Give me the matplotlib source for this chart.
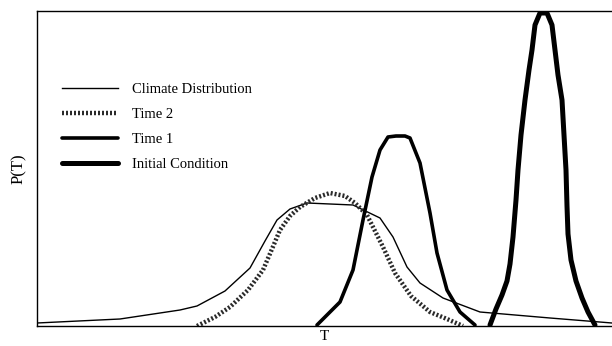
import matplotlib.pyplot as plt

plt.rcParams['font.family'] = ['Liberation Serif', 'DejaVu Serif']

# curves (T and P(T) in arbitrary units)
climate_t = [37, 120, 180, 197, 225, 250, 265, 277, 290, 307, 353, 380, 393, 407,
             420, 443, 480, 550, 612]
climate_p = [3, 7, 16, 20, 35, 58, 85, 106, 117, 123, 121, 108, 89, 59,
             43, 28, 14, 8, 3]

time2_t = [197, 215, 230, 248, 263, 272, 280, 290, 300, 315, 330, 345, 355, 367,
           383, 395, 411, 430, 447, 463]
time2_p = [0, 9, 19, 36, 56, 77, 96, 110, 119, 128, 133, 130, 123, 111,
           79, 53, 30, 14, 7, 0]

time1_t = [317, 328, 340, 353, 363, 372, 380, 388, 396, 405, 410, 420, 430, 437,
           447, 460, 475]
time1_p = [1, 12, 24, 56, 106, 149, 176, 189, 190, 190, 188, 163, 113, 73,
           36, 14, 1]

init_t = [490, 496, 502, 507, 510, 513, 516, 518, 521, 525, 529, 532, 535, 540,
          547, 552, 555, 558, 562, 564, 566, 567, 568, 571, 576, 582, 588, 595]
init_p = [1, 17, 31, 45, 62, 89, 126, 156, 191, 226, 256, 276, 301, 313,
          313, 301, 276, 251, 226, 191, 156, 120, 92, 66, 45, 28, 14, 1]

labels = ['Climate Distribution', 'Time 2', 'Time 1', 'Initial Condition']

fig = plt.figure(figsize=(6.12, 3.46), dpi=100)
ax = fig.add_axes([37 / 612, 20 / 346, 575 / 612, 315 / 346])

ax.plot(climate_t, climate_p, color='black', lw=1.0, label=labels[0])
ax.plot(time2_t, time2_p, color='#2a2a2a', lw=3.2, linestyle=(0, (0.45, 0.45)),
        label=labels[1])
ax.plot(time1_t, time1_p, color='black', lw=2.6, solid_joinstyle='round',
        solid_capstyle='round', label=labels[2])
ax.plot(init_t, init_p, color='black', lw=3.6, solid_joinstyle='round',
        solid_capstyle='round', label=labels[3])

ax.set_xlim(37, 612)
ax.set_ylim(0, 315)
ax.set_xticks([])
ax.set_yticks([])
ax.spines['right'].set_visible(False)
for s in ['left', 'top', 'bottom']:
    ax.spines[s].set_linewidth(1.0)

ax.set_xlabel('T', fontsize=11, labelpad=3)
ax.set_ylabel('P(T)', fontsize=12, labelpad=7)

ax.legend(loc='upper left', bbox_to_anchor=(0.02, 0.815), frameon=False,
          fontsize=10.5, handlelength=3.85, handletextpad=1.0,
          labelspacing=0.82)

fig.savefig('out.png', dpi=100)
